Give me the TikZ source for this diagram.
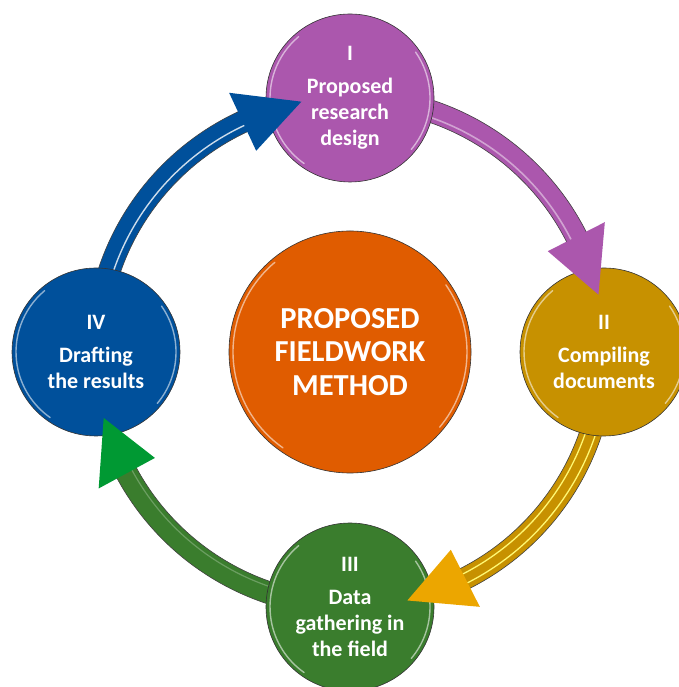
\documentclass[tikz,border=0pt]{standalone}
\usepackage{fontspec}
\setmainfont{Carlito}
\definecolor{purp}{RGB}{171,87,173}
\definecolor{goldc}{RGB}{199,145,0}
\definecolor{goldhead}{RGB}{236,166,0}
\definecolor{greenc}{RGB}{58,125,45}
\definecolor{greenhead}{RGB}{0,153,51}
\definecolor{bluec}{RGB}{0,80,155}
\definecolor{orangec}{RGB}{224,92,0}
\newcommand{\ringband}[3]{%
  \path[fill=#1, draw=black!75, line width=0.6pt]
    ([shift={(#2:265)}]ctr) arc[start angle=#2, end angle=#3, radius=265]
    -- ([shift={(#3:243)}]ctr) arc[start angle=#3, end angle=#2, radius=243] -- cycle;}
\newcommand{\ringshine}[5]{%
  \draw[#1, line width=#5] ([shift={(#2:#4)}]ctr) arc[start angle=#2, end angle=#3, radius=#4];}
\newcommand{\ringhead}[3]{%
  \fill[#1] ([shift={(#2:286)}]ctr) -- ([shift={(#3:255)}]ctr) -- ([shift={(#2:222)}]ctr) -- cycle;}
\newcommand{\discshine}[2]{%
  \draw[shine] ([shift={(130:#2)}]#1.center) arc[start angle=130, end angle=235, radius=#2];
  \draw[shine] ([shift={(-40:#2)}]#1.center) arc[start angle=-40, end angle=35, radius=#2];}
\begin{document}
\begin{tikzpicture}[x=1pt,y=1pt,
  stage/.style={circle, minimum size=168pt, inner sep=0pt, draw=black!80, line width=0.6pt,
    text=white, align=center, font=\bfseries\fontsize{22}{26}\selectfont},
  hub/.style={circle, minimum size=242pt, inner sep=0pt, draw=black!80, line width=0.6pt,
    fill=orangec, text=white, align=center, font=\bfseries\fontsize{30.5}{33.5}\selectfont},
  shine/.style={white, opacity=0.55, line width=1.4pt, line cap=round}]
\useasboundingbox (0,0) rectangle (678,687);
\coordinate (ctr) at (350,335);
% bands (under the circles)
\ringband{purp}{80}{25}
\ringshine{purp!55!white}{80}{25}{248}{1.6pt}
\ringband{goldc}{-10}{-65}
\ringshine{yellow!55!white}{-10}{-65}{249}{1.3pt}
\ringshine{yellow!55!white}{-10}{-65}{259}{1.3pt}
\ringband{greenc}{-100}{-153.5}
\ringshine{greenc!75!white}{-100}{-153.5}{248}{1.2pt}
\ringband{bluec}{170}{113}
\ringshine{white!80!bluec}{170}{113}{250}{1.4pt}
% circles
\node[hub] (hub) at (ctr) {PROPOSED\\FIELDWORK\\METHOD};
\node[stage, fill=purp] (n1) at (350,589) {I\\[7pt]Proposed\\research\\design};
\node[stage, fill=goldc] (n2) at (604,335) {II\\[7pt]Compiling\\documents};
\node[stage, fill=greenc] (n3) at (350,80) {III\\[7pt]Data\\gathering in\\the field};
\node[stage, fill=bluec] (n4) at (96,335) {IV\\[7pt]Drafting\\the results};
\discshine{hub}{117}
\discshine{n1}{80}
\discshine{n2}{80}
\discshine{n3}{80}
\discshine{n4}{80}
% arrow heads (over the target circles)
\ringhead{purp}{27}{13}
\ringhead{goldhead}{-63}{-77}
\ringhead{greenhead}{-151.5}{-165}
\ringhead{bluec}{115}{101}
\end{tikzpicture}
\end{document}
